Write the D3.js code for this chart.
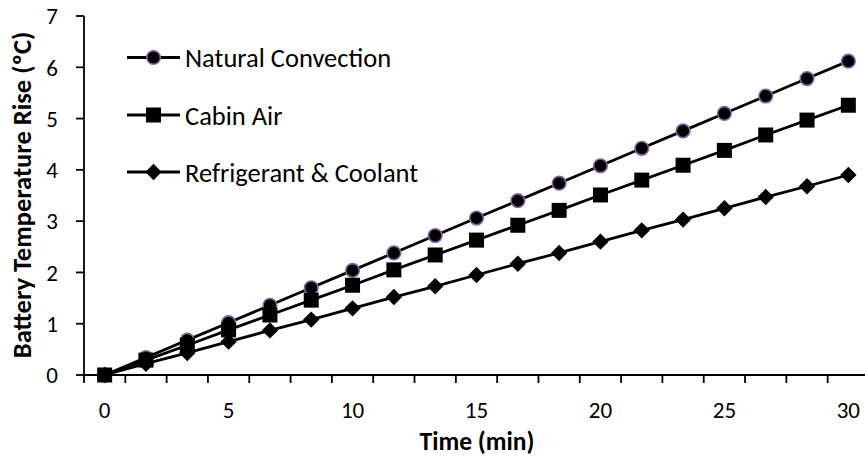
<!DOCTYPE html>
<html>
<head>
<meta charset="utf-8">
<script src="https://cdn.jsdelivr.net/npm/d3@7/dist/d3.min.js"></script>
<style>
  html, body { margin: 0; padding: 0; background: #fff; }
  svg { display: block; font-family: Carlito, Calibri, Lato, sans-serif; }
</style>
</head>
<body>
<svg id="chart" width="865" height="463"></svg>
<script>
// Sampling times (min) along the category axis
const times = [0, 1.67, 3.33, 5, 6.67, 8.33, 10, 11.67, 13.33, 15, 16.67, 18.33, 20, 21.67, 23.33, 25, 26.67, 28.33, 30];
// Times that carry a tick label
const xTickLabels = [0, 5, 10, 15, 20, 25, 30];
const yTicks = [0, 1, 2, 3, 4, 5, 6, 7];

// Battery temperature rise (°C) for each cooling strategy
const naturalConvection = [0, 0.34, 0.68, 1.02, 1.36, 1.70, 2.04, 2.38, 2.72, 3.06, 3.40, 3.74, 4.08, 4.42, 4.76, 5.10, 5.44, 5.78, 6.12];
const cabinAir = [0, 0.29, 0.58, 0.88, 1.17, 1.46, 1.75, 2.05, 2.34, 2.63, 2.92, 3.21, 3.51, 3.80, 4.09, 4.38, 4.68, 4.97, 5.26];
const refrigerantCoolant = [0, 0.22, 0.43, 0.65, 0.87, 1.08, 1.30, 1.52, 1.73, 1.95, 2.17, 2.38, 2.60, 2.82, 3.03, 3.25, 3.47, 3.68, 3.90];

const seriesNames = ["Natural Convection", "Cabin Air", "Refrigerant & Coolant"];
const seriesValues = [naturalConvection, cabinAir, refrigerantCoolant];
const seriesMarkers = ["circle", "square", "diamond"];

const svg = d3.select("#chart");
const plotLeft = 84, plotRight = 869, plotTop = 16, plotBottom = 375;

const x = d3.scaleBand().domain(times.map(String)).range([plotLeft, plotRight]).paddingInner(0).paddingOuter(0);
const xc = t => x(String(t)) + x.bandwidth() / 2;
const y = d3.scaleLinear().domain([0, 7]).range([plotBottom, plotTop]);

function drawMarker(g, kind, cx, cy) {
  if (kind === "circle") {
    g.append("circle").attr("cx", cx).attr("cy", cy).attr("r", 6.8)
      .attr("fill", "#000").attr("stroke", "#8064a2").attr("stroke-width", 1.6);
  } else if (kind === "square") {
    g.append("rect").attr("x", cx - 7.5).attr("y", cy - 7.5).attr("width", 15).attr("height", 15)
      .attr("fill", "#000");
  } else {
    const s = 8.2;
    g.append("path").attr("d", `M${cx},${cy - s}L${cx + s},${cy}L${cx},${cy + s}L${cx - s},${cy}Z`)
      .attr("fill", "#000");
  }
}

// Series lines and markers
const line = d3.line().x((d, i) => xc(times[i])).y(d => y(d));
seriesValues.forEach((vals, si) => {
  const g = svg.append("g");
  g.append("path").datum(vals).attr("d", line)
    .attr("fill", "none").attr("stroke", "#000").attr("stroke-width", 2.8);
  vals.forEach((v, i) => drawMarker(g, seriesMarkers[si], xc(times[i]), y(v)));
});

// Y axis
const yAxis = svg.append("g");
yAxis.append("line").attr("x1", plotLeft).attr("x2", plotLeft).attr("y1", plotTop).attr("y2", plotBottom)
  .attr("stroke", "#000").attr("stroke-width", 1.8);
yTicks.forEach(t => {
  yAxis.append("line").attr("x1", plotLeft - 8).attr("x2", plotLeft).attr("y1", y(t)).attr("y2", y(t))
    .attr("stroke", "#000").attr("stroke-width", 1.8);
  yAxis.append("text").attr("x", 58).attr("y", y(t)).attr("dy", "0.36em")
    .attr("text-anchor", "end").attr("font-size", 23).text(t);
});

// X axis
const xAxis = svg.append("g");
xAxis.append("line").attr("x1", plotLeft).attr("x2", plotRight).attr("y1", plotBottom).attr("y2", plotBottom)
  .attr("stroke", "#000").attr("stroke-width", 1.8);
times.forEach(t => {
  const bx = x(String(t));
  xAxis.append("line").attr("x1", bx).attr("x2", bx).attr("y1", plotBottom).attr("y2", plotBottom + 8)
    .attr("stroke", "#000").attr("stroke-width", 1.8);
});
xTickLabels.forEach(t => {
  const idx = times.indexOf(t);
  xAxis.append("text").attr("x", xc(times[idx])).attr("y", 410).attr("dy", "0.36em")
    .attr("text-anchor", "middle").attr("font-size", 23).text(t);
});

// Axis titles
svg.append("text").attr("x", 477).attr("y", 450).attr("text-anchor", "middle")
  .attr("font-size", 25.5).attr("font-weight", "bold").text("Time (min)");
svg.append("text").attr("transform", "translate(31,195) rotate(-90)").attr("text-anchor", "middle")
  .attr("font-size", 26.5).attr("font-weight", "bold").text("Battery Temperature Rise (ºC)");

// Legend
const legendY = [57.5, 115, 172];
seriesNames.forEach((name, i) => {
  const g = svg.append("g");
  g.append("line").attr("x1", 127).attr("x2", 180).attr("y1", legendY[i]).attr("y2", legendY[i])
    .attr("stroke", "#000").attr("stroke-width", 2.8);
  drawMarker(g, seriesMarkers[i], 153.5, legendY[i]);
  g.append("text").attr("x", 185).attr("y", legendY[i]).attr("dy", "0.36em")
    .attr("font-size", 26.5).text(name);
});
</script>
</body>
</html>
